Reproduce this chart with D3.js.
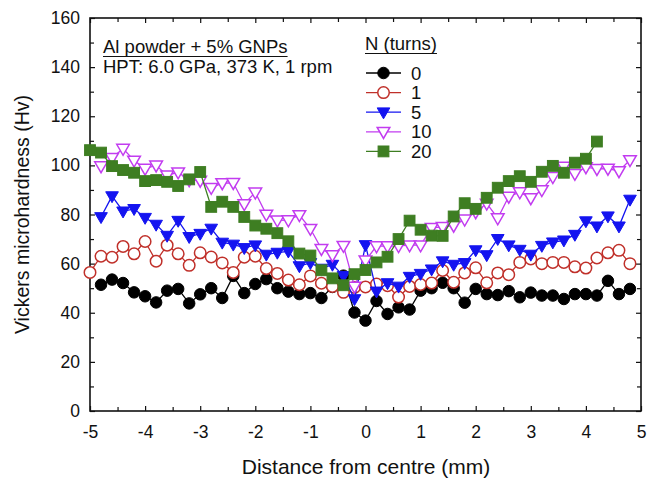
<!DOCTYPE html>
<html>
<head>
<meta charset="utf-8">
<script src="https://cdn.jsdelivr.net/npm/d3@7"></script>
<style>
  body { margin: 0; background: #fff; }
  text { font-family: "Liberation Sans", Arial, sans-serif; fill: #111; }
</style>
</head>
<body>
<div id="chart"></div>
<script>
// distances (mm) where the indents were measured
const dist49 = [-4.8, -4.6, -4.4, -4.2, -4.0, -3.8, -3.6, -3.4, -3.2, -3.0,
  -2.8, -2.6, -2.4, -2.2, -2.0, -1.8, -1.6, -1.4, -1.2, -1.0,
  -0.8, -0.6, -0.4, -0.2, 0.0, 0.2, 0.4, 0.6, 0.8, 1.0,
  1.2, 1.4, 1.6, 1.8, 2.0, 2.2, 2.4, 2.6, 2.8, 3.0,
  3.2, 3.4, 3.6, 3.8, 4.0, 4.2, 4.4, 4.6, 4.8];
const dist50 = [-5.0].concat(dist49);

// hardness values, one array per number of turns
const hv0 = [51.4, 53.5, 52.1, 48.3, 46.7, 44.2, 49.0, 49.7, 43.8, 47.5,
  50.0, 46.0, 55.0, 48.0, 51.7, 53.7, 50.0, 48.6, 47.6, 48.0,
  46.0, 50.5, 55.1, 40.1, 36.8, 44.8, 39.5, 42.2, 41.3, 49.0,
  50.0, 52.2, 50.0, 44.1, 49.7, 47.6, 47.2, 48.8, 46.3, 48.2,
  47.0, 47.0, 45.6, 47.6, 47.6, 47.0, 53.0, 47.6, 49.7];
const hv1 = [56.4, 63.0, 62.6, 67.0, 64.0, 69.0, 61.0, 67.5, 64.0, 59.3,
  64.4, 62.7, 60.3, 56.4, 62.6, 63.0, 58.0, 56.0, 53.3, 51.4,
  55.0, 52.0, 50.7, 48.3, 50.3, 50.5, 51.7, 51.0, 46.4, 50.7,
  51.5, 52.1, 57.2, 52.4, 56.2, 58.3, 52.2, 56.2, 55.5, 60.5,
  61.9, 60.0, 60.5, 60.5, 58.7, 58.2, 62.3, 64.4, 65.4, 60.0];
const hv5 = [79.0, 87.5, 81.3, 82.3, 78.7, 75.9, 71.4, 77.5, 70.9, 72.2,
  74.3, 68.6, 67.8, 66.4, 67.5, 63.7, 64.5, 65.0, 59.0, 60.3,
  58.0, 59.6, 55.0, 45.6, 67.6, 48.7, 52.1, 50.7, 54.7, 55.9,
  57.7, 61.0, 59.6, 60.3, 65.5, 63.5, 70.1, 67.5, 65.7, 63.7,
  67.3, 68.7, 69.5, 71.8, 77.3, 75.2, 79.3, 75.2, 86.1];
const hv10 = [99.7, 103.1, 106.8, 102.0, 98.7, 100.0, 96.0, 97.2, 94.0, 93.8,
  90.9, 92.8, 92.9, 84.3, 89.0, 80.0, 77.6, 77.7, 79.8, 74.2,
  66.0, 63.5, 67.3, 50.7, 61.3, 67.1, 67.1, 67.2, 67.5, 67.5,
  74.6, 75.0, 75.5, 78.0, 81.0, 84.5, 78.5, 87.3, 89.1, 86.7,
  90.0, 95.3, 99.5, 96.6, 99.3, 98.6, 98.7, 97.7, 102.2];
const hv20 = [106.2, 105.2, 99.7, 98.1, 97.0, 93.6, 94.0, 93.3, 91.6, 94.3,
  97.3, 83.1, 85.2, 83.1, 79.0, 75.5, 74.2, 72.4, 69.1, 64.1,
  63.3, 57.3, 54.0, 51.2, 55.7, 57.4, 60.5, 62.8, 70.0, 77.5,
  73.8, 71.4, 71.3, 79.2, 84.6, 82.3, 86.8, 90.9, 93.6, 95.6,
  93.3, 97.4, 99.8, 97.0, 101.1, 102.7, 109.7];

const turnLabels = ["0", "1", "5", "10", "20"];
const xTicks = [-5, -4, -3, -2, -1, 0, 1, 2, 3, 4, 5];
const yTicks = [0, 20, 40, 60, 80, 100, 120, 140, 160];
const xMinor = [-4.5, -3.5, -2.5, -1.5, -0.5, 0.5, 1.5, 2.5, 3.5, 4.5];
const yMinor = [10, 30, 50, 70, 90, 110, 130, 150];

const series = [
  { label: "0", dist: dist49, hv: hv0, color: "#000000", shape: "circle", filled: true },
  { label: "1", dist: dist50, hv: hv1, color: "#c0302a", shape: "circle", filled: false },
  { label: "5", dist: dist49, hv: hv5, color: "#1414f0", shape: "tri", filled: true },
  { label: "10", dist: dist49, hv: hv10, color: "#c23cf0", shape: "tri", filled: false },
  { label: "20", dist: dist50, hv: hv20, color: "#3e7e22", shape: "square", filled: true }
];

const width = 662, height = 482;
const plotL = 90, plotR = 641, plotT = 18, plotB = 411;

const svg = d3.select("#chart").append("svg")
  .attr("width", width).attr("height", height);

const x = d3.scaleLinear().domain([-5, 5]).range([plotL, plotR]);
const y = d3.scaleLinear().domain([0, 160]).range([plotB, plotT]);

// inward ticks on all four sides
function tickAxis(axisFn, scale, ticks, size, labels, pad, translate) {
  const g = svg.append("g")
    .attr("transform", translate)
    .call(axisFn(scale).tickValues(ticks).tickSize(size).tickPadding(pad)
      .tickFormat(labels ? (d => String(d)) : ""));
  g.select(".domain").remove();
  g.selectAll(".tick line").attr("stroke", "#111").attr("stroke-width", 1.2);
  g.selectAll(".tick text").style("font-size", "17.5px").attr("fill", "#111");
  return g;
}

tickAxis(d3.axisBottom, x, xTicks, -5, true, 15, `translate(0,${plotB})`);
tickAxis(d3.axisBottom, x, xMinor, -4, false, 15, `translate(0,${plotB})`);
tickAxis(d3.axisTop, x, xTicks, -5, false, 9, `translate(0,${plotT})`);
tickAxis(d3.axisTop, x, xMinor, -4, false, 9, `translate(0,${plotT})`);
tickAxis(d3.axisLeft, y, yTicks, -5, true, 10, `translate(${plotL},0)`);
tickAxis(d3.axisLeft, y, yMinor, -4, false, 10, `translate(${plotL},0)`);
tickAxis(d3.axisRight, y, yTicks, -5, false, 9, `translate(${plotR},0)`);
tickAxis(d3.axisRight, y, yMinor, -4, false, 9, `translate(${plotR},0)`);

svg.append("rect")
  .attr("x", plotL).attr("y", plotT)
  .attr("width", plotR - plotL).attr("height", plotB - plotT)
  .attr("fill", "none").attr("stroke", "#111").attr("stroke-width", 1.6);

// axis titles
svg.append("text")
  .attr("x", 366).attr("y", 474)
  .attr("text-anchor", "middle").style("font-size", "21px")
  .text("Distance from centre (mm)");
svg.append("text")
  .attr("transform", `translate(29,${(plotT + plotB) / 2}) rotate(-90)`)
  .attr("text-anchor", "middle").style("font-size", "19.5px")
  .text("Vickers microhardness (Hv)");

function marker(sel, s, size) {
  if (s.shape === "circle") {
    sel.append("circle").attr("r", size * 0.5);
  } else if (s.shape === "square") {
    sel.append("rect").attr("x", -size * 0.47).attr("y", -size * 0.47)
      .attr("width", size * 0.94).attr("height", size * 0.94);
  } else {
    const h = size * 0.5;
    sel.append("path").attr("d", `M${-h * 1.1},${-h * 0.75}L${h * 1.1},${-h * 0.75}L0,${h * 1.15}Z`);
  }
  sel.selectAll("circle,rect,path")
    .attr("fill", s.filled ? s.color : "#fff")
    .attr("stroke", s.color)
    .attr("stroke-width", s.filled ? 1 : 1.5);
}

const line = d3.line().x(d => x(d[0])).y(d => y(d[1]));

series.forEach(s => {
  const pts = s.hv.map((v, i) => [s.dist[i], v]);
  svg.append("path")
    .datum(pts)
    .attr("d", line)
    .attr("fill", "none")
    .attr("stroke", s.color)
    .attr("stroke-width", 1.3);
  svg.append("g").selectAll("g")
    .data(pts)
    .join("g")
    .attr("transform", d => `translate(${x(d[0])},${y(d[1])})`)
    .each(function () { marker(d3.select(this), s, 11.5); });
});

// annotation
function underlined(tx, ty, str) {
  const t = svg.append("text").attr("x", tx).attr("y", ty)
    .style("font-size", "18.5px").text(str);
  const b = t.node().getBBox();
  svg.append("line")
    .attr("x1", b.x).attr("x2", b.x + b.width)
    .attr("y1", ty + 3.5).attr("y2", ty + 3.5)
    .attr("stroke", "#111").attr("stroke-width", 1.2);
}
underlined(103, 53, "Al powder + 5% GNPs");
svg.append("text").attr("x", 103).attr("y", 73)
  .style("font-size", "18.5px").text("HPT: 6.0 GPa, 373 K, 1 rpm");

// legend
underlined(365, 50, "N (turns)");
series.forEach((s, i) => {
  const ly = 73 + i * 19.6;
  svg.append("line")
    .attr("x1", 366).attr("x2", 401)
    .attr("y1", ly).attr("y2", ly)
    .attr("stroke", s.color).attr("stroke-width", 1.3);
  const g = svg.append("g").attr("transform", `translate(383.5,${ly})`);
  marker(g, s, 11.5);
  svg.append("text").attr("x", 411).attr("y", ly + 6.5)
    .style("font-size", "18.5px").text(turnLabels[i]);
});
</script>
</body>
</html>
